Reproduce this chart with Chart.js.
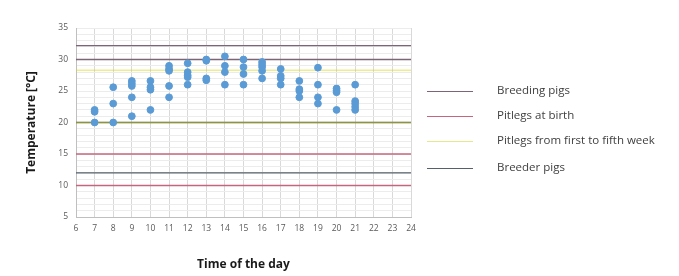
<!DOCTYPE html>
<html>
<head>
<meta charset="utf-8">
<script src="https://cdn.jsdelivr.net/npm/chart.js@4/dist/chart.umd.min.js"></script>
<style>
  body { margin: 0; background: #fff; }
  #wrap { position: relative; width: 679px; height: 276px; }
  #legend { position: absolute; left: 427px; top: 0; font-family: "Open Sans", sans-serif; font-size: 11.5px; color: #404040; }
  .item { position: absolute; left: 0; white-space: nowrap; }
  .item span.ln { position: absolute; left: 0; width: 46px; height: 0; border-top: 1.3px solid; }
  .item span.tx { position: absolute; left: 70px; }
</style>
</head>
<body>
<div id="wrap">
  <canvas id="myChart" width="679" height="276"></canvas>
  <div id="legend"></div>
</div>
<script>
// measured temperatures per hour
var hours = [7, 8, 9, 10, 11, 12, 13, 14, 15, 16, 17, 18, 19, 20, 21];
var tempsByHour = [
    [22, 21.7, 20],
    [25.6, 23, 20],
    [26.6, 26.2, 25.8, 24, 21],
    [26.6, 25.6, 25.2, 22],
    [29, 28.5, 28.2, 25.8, 24],
    [29.4, 28, 27.5, 27.2, 26],
    [30, 29.8, 27, 26.7],
    [30.5, 29, 28, 26],
    [30, 28.8, 27.7, 26],
    [29.6, 29.2, 28.8, 28.2, 27],
    [28.5, 27.4, 27, 26],
    [26.6, 25.3, 25, 24],
    [28.7, 26, 24, 23],
    [25.4, 25.1, 24.8, 22],
    [26, 23.4, 23, 22.5, 22]
];

// recommended temperature limits
var limitNames = ["Breeding pigs", "Pitlegs at birth", "Pitlegs from first to fifth week", "Breeder pigs"];
var limitValues = [[30, 32.2], [10, 15], [28.3, 20], [12, 20]];
var limitColors = ["#7c6576", "#c4677e", "rgba(212, 214, 0, 0.45)", "#55606a"];
var legendColors = ["#7c6576", "#c4677e", "#e6e88e", "#55606a"];

var xMin = 6, xMax = 24, yMin = 5, yMax = 35;

var points = [];
hours.forEach(function (h, i) {
    tempsByHour[i].forEach(function (t) {
        points.push({ x: h, y: t });
    });
});

var datasets = [];
limitValues.forEach(function (vals, i) {
    vals.forEach(function (v) {
        datasets.push({
            type: 'line',
            label: limitNames[i],
            data: [{ x: xMin, y: v }, { x: xMax, y: v }],
            borderColor: limitColors[i],
            borderWidth: 1.4,
            pointRadius: 0,
            order: i == 2 ? 1 : 10 - i
        });
    });
});
datasets.push({
    type: 'scatter',
    label: 'Temperature',
    data: points,
    backgroundColor: '#5b9bd5',
    borderColor: '#5b9bd5',
    pointRadius: 3.4,
    order: 0
});

var ctx = document.getElementById('myChart').getContext('2d');
var myChart = new Chart(ctx, {
    type: 'scatter',
    data: { datasets: datasets },
    options: {
        responsive: false,
        animation: false,
        layout: { padding: { left: 20, right: 268, top: 28, bottom: 0 } },
        plugins: { legend: { display: false }, tooltip: { enabled: false } },
        scales: {
            x: {
                type: 'linear', min: xMin, max: xMax,
                ticks: { stepSize: 1, color: '#595959', font: { family: 'Open Sans', size: 8.5 }, padding: 6 },
                grid: { color: '#d9d9d9', drawTicks: false },
                border: { color: '#bfbfbf' },
                title: { display: true, text: 'Time of the day', color: '#1a1a1a', font: { family: 'Open Sans', size: 12, weight: 'bold' }, padding: { top: 14, bottom: 4 } },
                afterFit: function (s) { s.height = 276 - 217; }
            },
            y: {
                min: yMin, max: yMax,
                ticks: {
                    stepSize: 1, autoSkip: false, color: '#595959', font: { family: 'Open Sans', size: 8.5 }, padding: 8,
                    callback: function (v) { return v % 5 === 0 ? v : ''; }
                },
                grid: { color: '#ececec', drawTicks: false },
                border: { color: '#bfbfbf' },
                title: { display: true, text: 'Temperature [°C]', color: '#1a1a1a', font: { family: 'Open Sans', size: 12, weight: 'bold' } },
                afterFit: function (s) { s.width = 56; }
            }
        }
    }
});

// legend
var legend = document.getElementById('legend');
var rowsY = [91, 116, 141, 168];
limitNames.forEach(function (name, i) {
    var item = document.createElement('div');
    item.className = 'item';
    item.style.top = (rowsY[i] - 9) + 'px';
    item.innerHTML = "<span class='ln' style='top:9px;border-color:" + legendColors[i] + "'></span><span class='tx'>" + name + "</span>";
    legend.appendChild(item);
});
</script>
</body>
</html>
